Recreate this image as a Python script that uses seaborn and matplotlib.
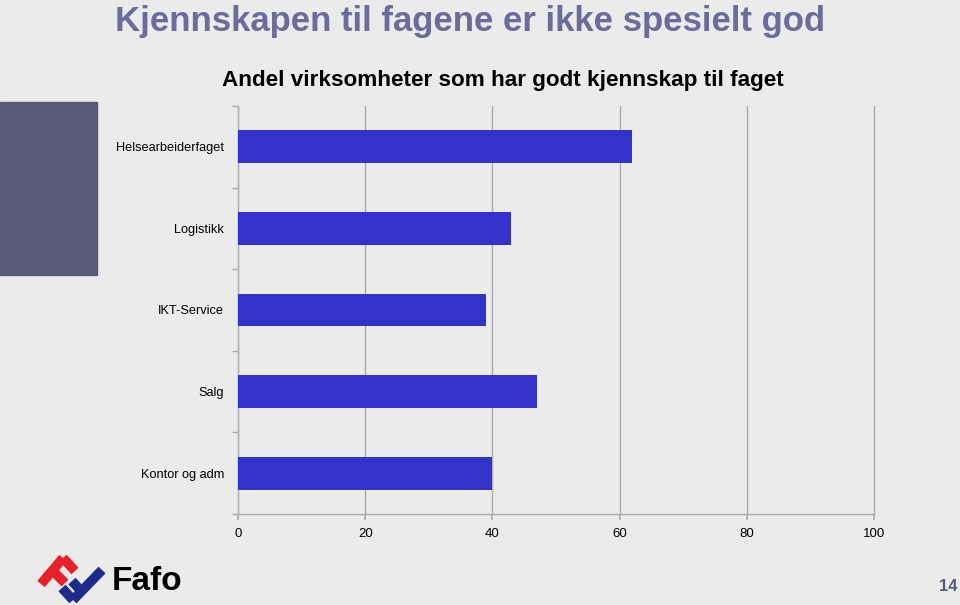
import matplotlib
matplotlib.use("Agg")
import matplotlib.pyplot as plt
import seaborn as sns
import pandas as pd
from matplotlib.lines import Line2D
from matplotlib.patches import Rectangle

categories = ["Helsearbeiderfaget", "Logistikk", "IKT-Service", "Salg", "Kontor og adm"]
values = [62, 43, 39, 47, 40]
xticks = [0, 20, 40, 60, 80, 100]

title = "Kjennskapen til fagene er ikke spesielt god"
subtitle = "Andel virksomheter som har godt kjennskap til faget"

BG = "#EBEBEB"
W, H = 960, 605

sns.set_theme(style="white")
plt.rcParams["font.family"] = ["Liberation Sans", "DejaVu Sans"]

fig = plt.figure(figsize=(9.6, 6.05), dpi=100, facecolor=BG)

def fx(x):
    return x / W

def fy(y):
    return 1 - y / H

# left decorative block
fig.patches.append(Rectangle((0, fy(275)), fx(97), fy(102) - fy(275),
                             transform=fig.transFigure, color="#575A78", zorder=0))

ax = fig.add_axes([fx(238), fy(514), fx(874) - fx(238), fy(106) - fy(514)])
ax.set_facecolor(BG)

df = pd.DataFrame({"kategori": categories, "andel": values})
sns.barplot(data=df, x="andel", y="kategori", orient="h", color="#3333CC",
            saturation=1, width=0.4, ax=ax, zorder=3, linewidth=0)

ax.set_xlim(0, 100)
ax.set_ylim(4.5, -0.5)
ax.set_xticks(xticks)
ax.set_xticklabels([str(t) for t in xticks], fontsize=9.5, color="black")
ax.set_xlabel("")
ax.set_ylabel("")
ax.grid(axis="x", color="#ABABAB", linewidth=1.0, zorder=0)
ax.grid(axis="y", visible=False)
for gl in ax.get_xgridlines():
    gl.set_clip_on(False)
ax.set_axisbelow(True)
for s in ["top", "right"]:
    ax.spines[s].set_visible(False)
ax.spines["left"].set_color("#B5B5B5")
ax.spines["bottom"].set_color("#ABABAB")
ax.spines["left"].set_linewidth(1.0)
ax.spines["bottom"].set_linewidth(1.0)

ax.tick_params(axis="y", length=0, labelsize=9.2, pad=10, colors="black")
ax.set_yticks([-0.5, 0.5, 1.5, 2.5, 3.5, 4.5], minor=True)
ax.tick_params(axis="y", which="minor", length=4, color="#ABABAB", left=True)
ax.tick_params(axis="x", length=4, color="#ABABAB", pad=6, bottom=True)
for lab in ax.get_yticklabels():
    lab.set_color("black")

fig.text(fx(470), fy(31), title, ha="center", va="baseline", fontsize=25,
         fontweight="bold", color="#6B6B9C")
fig.text(fx(503), fy(86), subtitle, ha="center", va="baseline", fontsize=16.2,
         fontweight="bold", color="black")

# Fafo logo (decoration)
red = "#E8202A"
blue = "#1F2A8C"
lw = 7
for (xs, ys, c) in [
    ([41, 63], [584, 558], red),
    ([63, 75], [558, 571], red),
    ([54, 65], [572, 583], red),
    ([73, 102], [600, 570], blue),
    ([73, 62], [600, 588], blue),
    ([82, 72], [592, 581], blue),
]:
    fig.add_artist(Line2D([fx(x) for x in xs], [fy(y) for y in ys],
                          transform=fig.transFigure, color=c, linewidth=lw,
                          solid_capstyle="butt"))
fig.text(fx(112), fy(590), "Fafo", ha="left", va="baseline", fontsize=24,
         fontweight="bold", color="black")

fig.text(fx(958), fy(591), "14", ha="right", va="baseline", fontsize=12,
         fontweight="bold", color="#575A78")

fig.savefig("out.png", dpi=100, facecolor=BG)
